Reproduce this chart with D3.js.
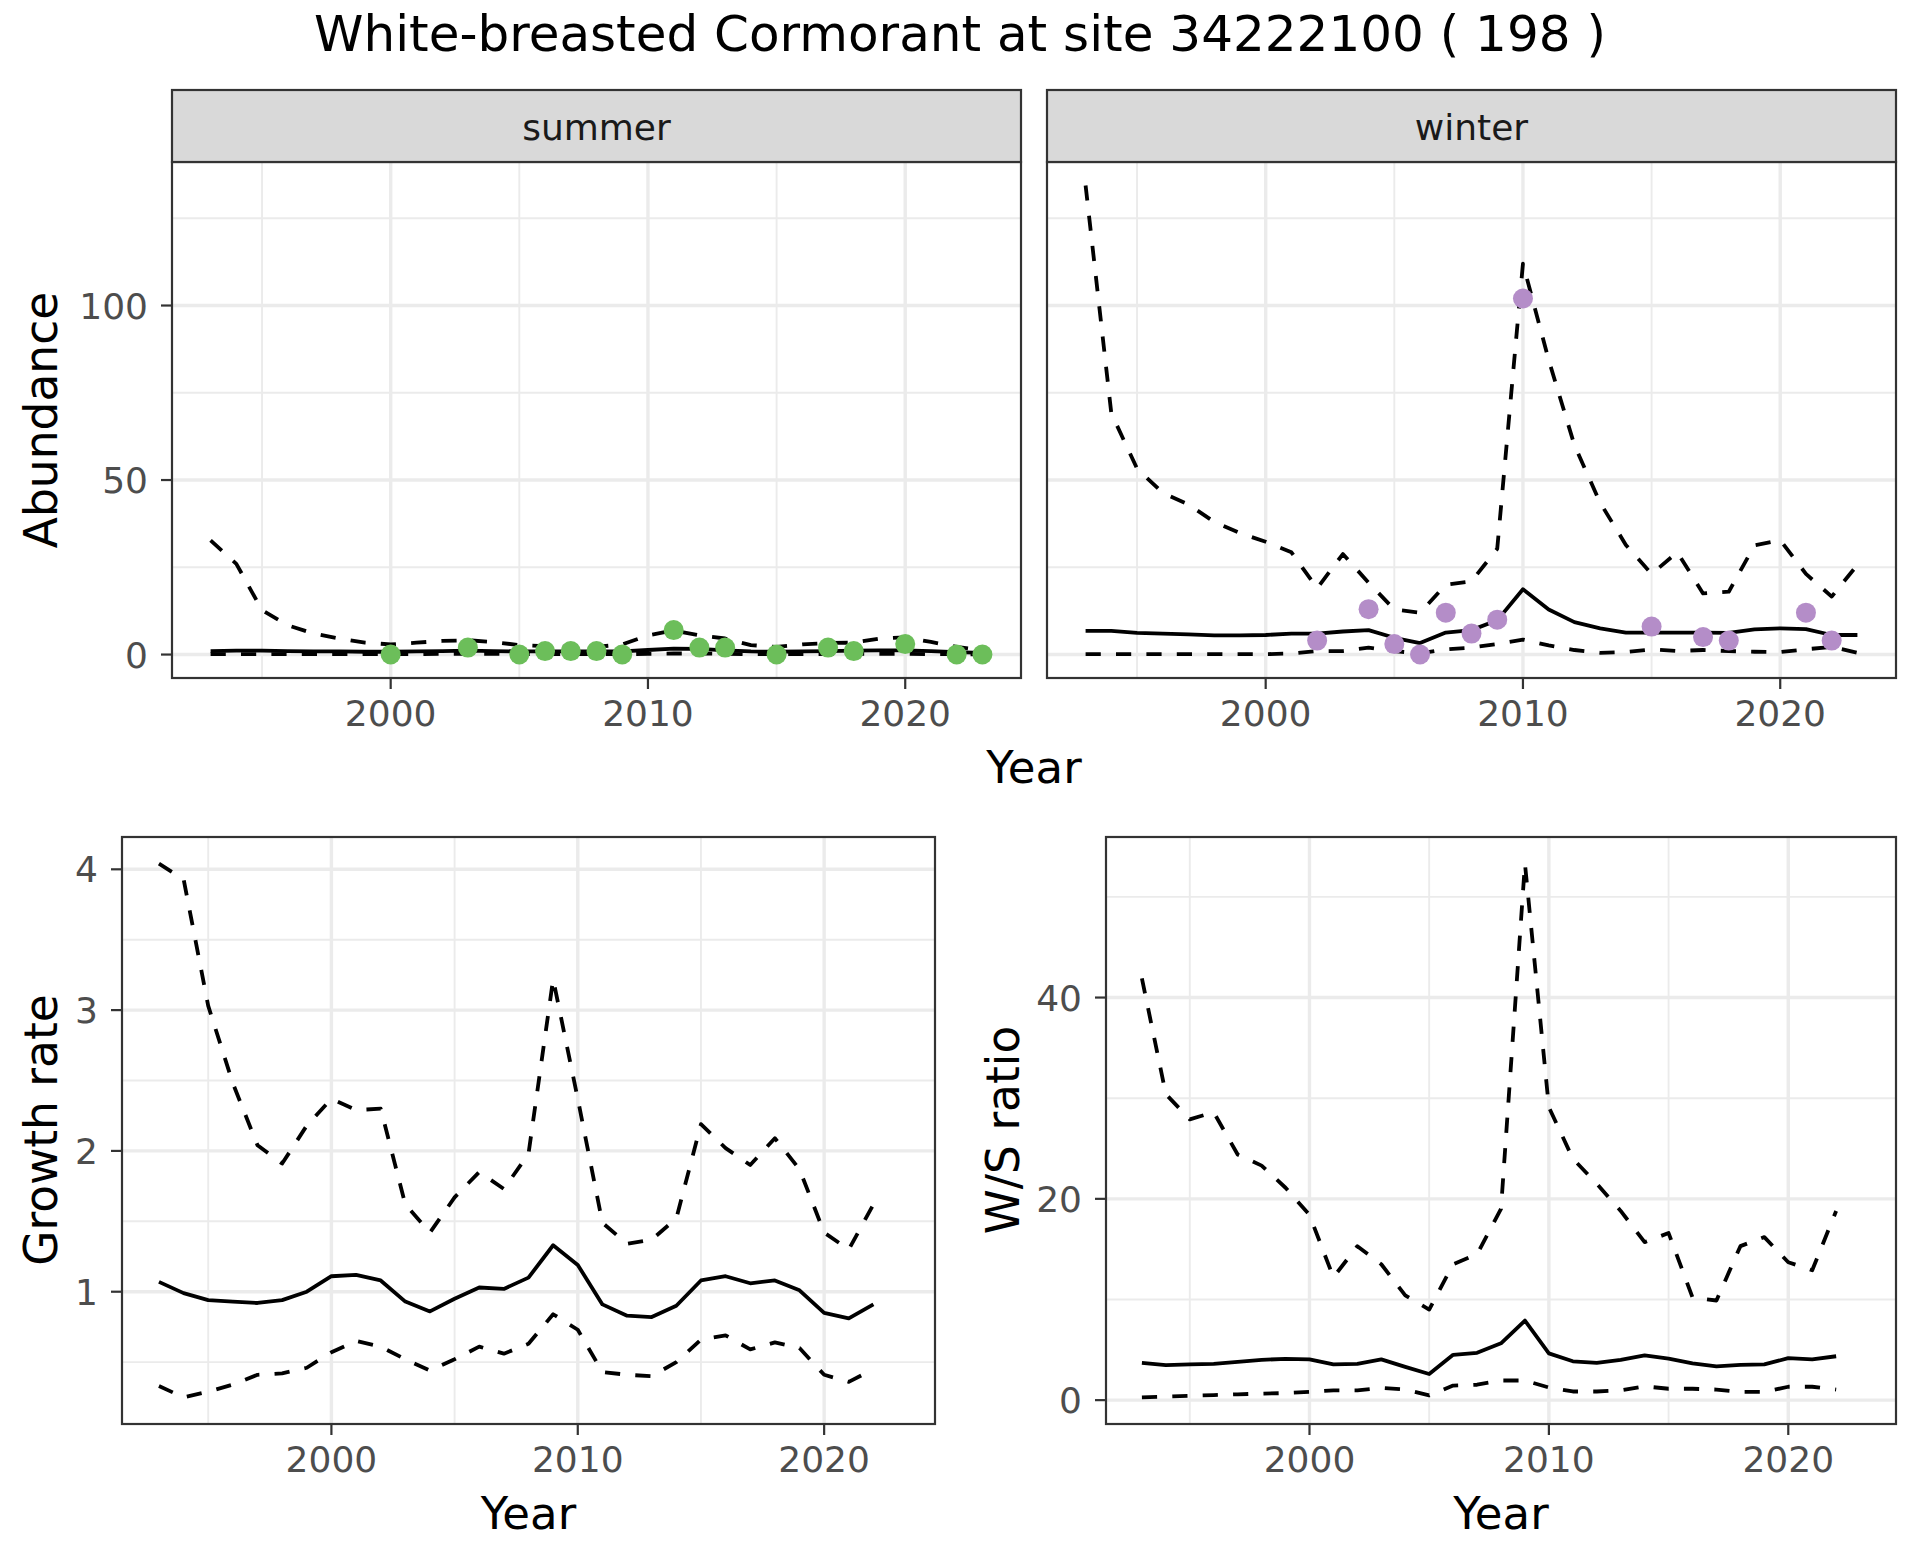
<!DOCTYPE html>
<html>
<head>
<meta charset="utf-8">
<script src="https://cdn.jsdelivr.net/npm/d3@7"></script>
<style>
  body { margin: 0; background: #fff; }
  text { font-family: "DejaVu Sans", sans-serif; }
</style>
</head>
<body>
<svg width="1920" height="1560"></svg>
<script>
// data
var years = [1993, 1994, 1995, 1996, 1997, 1998, 1999, 2000, 2001, 2002, 2003, 2004, 2005, 2006, 2007, 2008,
  2009, 2010, 2011, 2012, 2013, 2014, 2015, 2016, 2017, 2018, 2019, 2020, 2021, 2022, 2023];

var summerUpper = [32.7, 26, 12.7, 8.4, 6, 4.6, 3.4, 2.9, 3.4, 3.9, 4.1, 3.6, 2.7, 2.4, 2.2, 2.2,
  2.9, 5.5, 6.9, 5.5, 4.6, 2.7, 2.2, 2.9, 3.3, 3.4, 4.6, 4.9, 3.6, 2.2, 1.2];
var summerMean = [1.0, 1.1, 1.1, 1.0, 0.9, 0.9, 0.8, 0.8, 0.9, 1.0, 1.1, 1.0, 0.9, 0.9, 0.9, 0.9,
  0.9, 1.3, 1.7, 1.6, 1.2, 0.9, 0.8, 0.9, 1.0, 1.1, 1.2, 1.2, 1.0, 0.7, 0.5];
var summerLower = [0.1, 0.1, 0.1, 0.1, 0.1, 0.1, 0.1, 0.1, 0.1, 0.2, 0.2, 0.2, 0.1, 0.1, 0.1, 0.1,
  0.1, 0.2, 0.3, 0.3, 0.2, 0.1, 0.1, 0.1, 0.2, 0.2, 0.2, 0.2, 0.1, 0.1, 0.05];
var summerObsYears = [2000, 2003, 2005, 2006, 2007, 2008, 2009, 2011, 2012, 2013, 2015, 2017, 2018, 2020, 2022, 2023];
var summerObs = [0, 2, 0, 1, 1, 1, 0, 7, 2, 2, 0, 2, 1, 3, 0, 0];

var winterUpper = [134.4, 69.1, 53.3, 46.3, 43, 38, 34.8, 32.3, 29.3, 19, 28.8, 20.6, 12.9, 12, 20, 21,
  30.3, 112, 84.4, 60, 43.5, 31.4, 23.1, 29.3, 17.5, 18, 31.3, 32.8, 23.1, 16.6, 25.7];
var winterMean = [6.8, 6.8, 6.2, 6.0, 5.8, 5.5, 5.5, 5.6, 6.0, 6.0, 6.6, 7.0, 4.8, 3.3, 6.3, 7.0,
  9.8, 18.7, 12.9, 9.3, 7.5, 6.3, 6.3, 6.3, 6.3, 6.2, 7.2, 7.5, 7.3, 5.6, 5.6];
var winterLower = [0.1, 0.1, 0.1, 0.1, 0.1, 0.1, 0.1, 0.1, 0.3, 1, 1, 2, 1, 0.3, 1.5, 2,
  3, 4.3, 2.6, 1.3, 0.5, 0.7, 1.5, 1, 1.3, 1, 0.8, 0.7, 1.5, 2.2, 0.5];
var winterObsYears = [2002, 2004, 2005, 2006, 2007, 2008, 2009, 2010, 2015, 2017, 2018, 2021, 2022];
var winterObs = [4, 13, 3, 0, 12, 6, 10, 102, 8, 5, 4, 12, 4];

var rateYears = [1993, 1994, 1995, 1996, 1997, 1998, 1999, 2000, 2001, 2002, 2003, 2004, 2005, 2006, 2007,
  2008, 2009, 2010, 2011, 2012, 2013, 2014, 2015, 2016, 2017, 2018, 2019, 2020, 2021, 2022];

var growthUpper = [4.04, 3.93, 3.03, 2.48, 2.04, 1.91, 2.18, 2.37, 2.29, 2.30, 1.62, 1.42, 1.67, 1.85, 1.73,
  1.98, 3.22, 2.37, 1.49, 1.34, 1.37, 1.52, 2.19, 2.02, 1.90, 2.09, 1.87, 1.42, 1.30, 1.62];
var growthMean = [1.07, 0.99, 0.94, 0.93, 0.92, 0.94, 1.0, 1.11, 1.12, 1.08, 0.93, 0.86, 0.95, 1.03, 1.02,
  1.10, 1.33, 1.19, 0.91, 0.83, 0.82, 0.90, 1.08, 1.11, 1.06, 1.08, 1.01, 0.85, 0.81, 0.91];
var growthLower = [0.33, 0.25, 0.29, 0.34, 0.41, 0.42, 0.46, 0.57, 0.65, 0.61, 0.52, 0.44, 0.52, 0.61, 0.56,
  0.63, 0.84, 0.73, 0.43, 0.41, 0.40, 0.50, 0.66, 0.69, 0.59, 0.64, 0.60, 0.41, 0.36, 0.45];

var ratioUpper = [41.9, 30.4, 27.9, 28.6, 24.4, 23.3, 21.1, 18.4, 12.2, 15.3, 13.5, 10.4, 9.0, 13.5, 14.5,
  19.0, 53.3, 29.1, 24.0, 21.5, 18.8, 15.7, 16.6, 10.2, 9.9, 15.3, 16.2, 13.7, 12.9, 18.8];
var ratioMean = [3.7, 3.47, 3.55, 3.6, 3.8, 4.0, 4.1, 4.05, 3.55, 3.6, 4.05, 3.3, 2.6, 4.5, 4.7,
  5.65, 7.9, 4.65, 3.86, 3.7, 4.0, 4.45, 4.13, 3.66, 3.36, 3.5, 3.55, 4.17, 4.05, 4.36];
var ratioLower = [0.28, 0.35, 0.43, 0.5, 0.58, 0.65, 0.7, 0.82, 0.97, 0.97, 1.21, 1.05, 0.47, 1.45, 1.53,
  1.95, 1.95, 1.25, 0.86, 0.86, 0.97, 1.37, 1.13, 1.13, 1.05, 0.82, 0.82, 1.33, 1.33, 1.05];

var yearTicks = [2000, 2010, 2020];
var abundanceTicks = [0, 50, 100];
var growthTicks = [1, 2, 3, 4];
var ratioTicks = [0, 20, 40];

var svg = d3.select("svg");
var lw = 3.8;

// ggplot-like expanded domain (5% each side)
function expand(values) {
  var lo = d3.min(values), hi = d3.max(values), pad = (hi - lo) * 0.05;
  return [lo - pad, hi + pad];
}

function minorOf(ticks, domain) {
  var step = ticks[1] - ticks[0];
  var out = [];
  for (var i = -1; i < ticks.length; i++) {
    var m = ticks[0] + step * i + step / 2;
    if (m > domain[0] && m < domain[1]) out.push(m);
  }
  return out;
}

var xDomain = expand(years);

function drawPanel(p) {
  var x = d3.scaleLinear().domain(xDomain).range([p.left, p.right]);
  var y = d3.scaleLinear().domain(p.yDomain).range([p.bottom, p.top]);
  var g = svg.append("g");

  g.append("rect").attr("x", p.left).attr("y", p.top)
    .attr("width", p.right - p.left).attr("height", p.bottom - p.top).attr("fill", "#fff");

  // grid
  minorOf(yearTicks, xDomain).forEach(function (t) {
    g.append("line").attr("x1", x(t)).attr("x2", x(t)).attr("y1", p.top).attr("y2", p.bottom)
      .attr("stroke", "#EBEBEB").attr("stroke-width", 1.9);
  });
  minorOf(p.yTicks, p.yDomain).forEach(function (t) {
    g.append("line").attr("x1", p.left).attr("x2", p.right).attr("y1", y(t)).attr("y2", y(t))
      .attr("stroke", "#EBEBEB").attr("stroke-width", 1.9);
  });
  yearTicks.forEach(function (t) {
    g.append("line").attr("x1", x(t)).attr("x2", x(t)).attr("y1", p.top).attr("y2", p.bottom)
      .attr("stroke", "#EBEBEB").attr("stroke-width", 3.4);
  });
  p.yTicks.forEach(function (t) {
    g.append("line").attr("x1", p.left).attr("x2", p.right).attr("y1", y(t)).attr("y2", y(t))
      .attr("stroke", "#EBEBEB").attr("stroke-width", 3.4);
  });

  // lines
  var line = d3.line()
    .x(function (d) { return x(d[0]); })
    .y(function (d) { return y(d[1]); });

  p.series.forEach(function (s) {
    var pts = s.values.map(function (v, i) { return [p.years[i], v]; });
    g.append("path").datum(pts)
      .attr("d", line)
      .attr("fill", "none")
      .attr("stroke", "#000")
      .attr("stroke-width", lw)
      .attr("stroke-linejoin", "round")
      .attr("stroke-dasharray", s.dashed ? (4 * lw) + "," + (4 * lw) : null);
  });

  if (p.obs) {
    g.selectAll(".pt").data(p.obsYears).enter().append("circle")
      .attr("cx", function (d) { return x(d); })
      .attr("cy", function (d, i) { return y(p.obs[i]); })
      .attr("r", 10)
      .attr("fill", p.color);
  }

  // border
  g.append("rect").attr("x", p.left).attr("y", p.top)
    .attr("width", p.right - p.left).attr("height", p.bottom - p.top)
    .attr("fill", "none").attr("stroke", "#333333").attr("stroke-width", 2.2);

  // x axis
  yearTicks.forEach(function (t) {
    g.append("line").attr("x1", x(t)).attr("x2", x(t)).attr("y1", p.bottom).attr("y2", p.bottom + 11)
      .attr("stroke", "#333333").attr("stroke-width", 2.2);
    g.append("text").attr("x", x(t)).attr("y", p.bottom + 48)
      .attr("text-anchor", "middle").style("font-size", "36px").attr("fill", "#4D4D4D")
      .text(t);
  });

  // y axis
  if (p.showY) {
    p.yTicks.forEach(function (t) {
      g.append("line").attr("x1", p.left - 11).attr("x2", p.left).attr("y1", y(t)).attr("y2", y(t))
        .attr("stroke", "#333333").attr("stroke-width", 2.2);
      g.append("text").attr("x", p.left - 24).attr("y", y(t) + 13)
        .attr("text-anchor", "end").style("font-size", "36px").attr("fill", "#4D4D4D")
        .text(t);
    });
  }

  if (p.strip) {
    g.append("rect").attr("x", p.left).attr("y", 90)
      .attr("width", p.right - p.left).attr("height", p.top - 90)
      .attr("fill", "#D9D9D9").attr("stroke", "#333333").attr("stroke-width", 2.2);
    g.append("text").attr("x", (p.left + p.right) / 2).attr("y", 140)
      .attr("text-anchor", "middle").style("font-size", "36px").attr("fill", "#1A1A1A")
      .text(p.strip);
  }
}

var abundanceDomain = expand(winterUpper.concat(summerLower, [0]));

drawPanel({
  left: 172, right: 1021, top: 162, bottom: 678,
  yDomain: abundanceDomain, yTicks: abundanceTicks, showY: true, strip: "summer",
  years: years,
  series: [{ values: summerUpper, dashed: true }, { values: summerMean }, { values: summerLower, dashed: true }],
  obsYears: summerObsYears, obs: summerObs, color: "#6CBE5A"
});

drawPanel({
  left: 1047, right: 1896, top: 162, bottom: 678,
  yDomain: abundanceDomain, yTicks: abundanceTicks, showY: false, strip: "winter",
  years: years,
  series: [{ values: winterUpper, dashed: true }, { values: winterMean }, { values: winterLower, dashed: true }],
  obsYears: winterObsYears, obs: winterObs, color: "#B48DC8"
});

drawPanel({
  left: 122, right: 935, top: 837, bottom: 1424,
  yDomain: expand(growthUpper.concat(growthLower)), yTicks: growthTicks, showY: true,
  years: rateYears,
  series: [{ values: growthUpper, dashed: true }, { values: growthMean }, { values: growthLower, dashed: true }]
});

drawPanel({
  left: 1106, right: 1896, top: 837, bottom: 1424,
  yDomain: expand(ratioUpper.concat(ratioLower)), yTicks: ratioTicks, showY: true,
  years: rateYears,
  series: [{ values: ratioUpper, dashed: true }, { values: ratioMean }, { values: ratioLower, dashed: true }]
});

// Titles
svg.append("text")
  .attr("x", 960).attr("y", 51)
  .attr("text-anchor", "middle")
  .style("font-size", "50px")
  .text("White-breasted Cormorant at site 34222100 ( 198 )");

function xTitle(cx, y) {
  svg.append("text").attr("x", cx).attr("y", y)
    .attr("text-anchor", "middle").style("font-size", "45px").text("Year");
}
xTitle((172 + 1896) / 2, 783);
xTitle((122 + 935) / 2, 1529);
xTitle((1106 + 1896) / 2, 1529);

function yTitle(x, cy, label) {
  svg.append("text")
    .attr("text-anchor", "middle")
    .attr("transform", "translate(" + x + "," + cy + ")rotate(-90)")
    .style("font-size", "45.5px")
    .text(label);
}
yTitle(57, 420, "Abundance");
yTitle(57, 1130, "Growth rate");
yTitle(1019, 1130, "W/S ratio");
</script>
</body>
</html>
